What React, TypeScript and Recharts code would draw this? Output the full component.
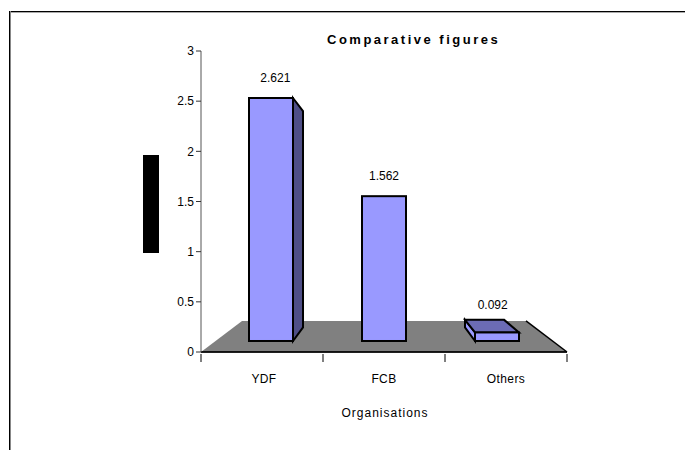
import { BarChart, Bar, XAxis, YAxis, ReferenceArea, LabelList } from 'recharts';

const organisations = ['YDF', 'FCB', 'Others'];
const figures = [2.621, 1.562, 0.092];
const yTicks = [0, 0.5, 1, 1.5, 2, 2.5, 3];
const floorTop = 0.31;

const chartData = organisations.map((name, i) => ({ name, value: figures[i] }));

const FONT = '"Liberation Sans", Arial, sans-serif';
// vanishing point of the fake 3d view
const VP = { x: 384, y: 218 };
const DEPTH = 0.11;
const BAND = 122;

const toBack = (px: number, py: number) => [px + (VP.x - px) * DEPTH, py + (VP.y - py) * DEPTH];
const pts = (list: number[][]) => list.map((p) => p.join(',')).join(' ');

const Bar3D = (props: any) => {
  const { x, y, width, height } = props;
  const r = x + width;
  const b = y + height;
  const tl = toBack(x, y);
  const tr = toBack(r, y);
  const bl = toBack(x, b);
  const br = toBack(r, b);
  return (
    <g stroke="#000" strokeWidth={2} strokeLinejoin="miter">
      {r < VP.x && <polygon points={pts([[r, y], tr, br, [r, b]])} fill="#4f4f87" />}
      {x > VP.x && <polygon points={pts([[x, y], tl, bl, [x, b]])} fill="#9999ff" />}
      {y > VP.y && <polygon points={pts([[x, y], tl, tr, [r, y]])} fill="#6b6bb5" />}
      <rect x={x} y={y} width={width} height={height} fill="#9999ff" />
    </g>
  );
};

const Floor = (props: any) => {
  const { x, y, width, height } = props;
  const r = x + width;
  const b = y + height;
  return (
    <g>
      <polygon points={pts([[x, b], [x + 41, y], [r - 41, y], [r, b]])} fill="#808080" />
      <line x1={r - 41} y1={y} x2={r} y2={b} stroke="#000" strokeWidth={1.5} />
      <line x1={x} y1={b} x2={r} y2={b} stroke="#000" strokeWidth={1.5} />
    </g>
  );
};

const ValueLabel = (props: any) => {
  const { x, y, width, value } = props;
  const cx = x + width / 2;
  const backY = toBack(cx, y)[1];
  const topVisible = y > VP.y;
  return (
    <text
      x={cx + (VP.x - cx) * DEPTH * 0.35}
      y={topVisible ? backY - 11 : y - 16}
      textAnchor="middle"
      fontFamily={FONT}
      fontSize={12}
      fill="#000"
    >
      {value}
    </text>
  );
};

// tick marks sit on the band edges, labels in the middle
const OrgTick = (props: any) => {
  const { x, y, payload, index } = props;
  const axisY = y - 6;
  return (
    <g>
      <line x1={x - BAND / 2} y1={axisY} x2={x - BAND / 2} y2={axisY + 8} stroke="#000" />
      {index === organisations.length - 1 && (
        <line x1={x + BAND / 2} y1={axisY} x2={x + BAND / 2} y2={axisY + 8} stroke="#000" />
      )}
      <text x={index === 0 ? x + 2 : x} y={axisY + 29} textAnchor="middle" fontFamily={FONT} fontSize={12} letterSpacing={0.4} fill="#000">
        {payload.value}
      </text>
    </g>
  );
};

export default function App() {
  return (
    <div style={{ position: 'absolute', left: 0, top: 0, width: 685, height: 450, background: '#fff', overflow: 'hidden' }}>
      <div style={{ position: 'absolute', left: 9, top: 11, width: 676, height: 1, background: '#000', boxShadow: '0 1px 0 #aaa' }} />
      <div style={{ position: 'absolute', left: 9, top: 11, width: 1, height: 439, background: '#000', boxShadow: '1px 0 0 #888' }} />
      <div style={{ position: 'absolute', left: 143, top: 155, width: 16, height: 98, background: '#000' }} />
      <div
        style={{
          position: 'absolute',
          left: 327,
          top: 32,
          fontFamily: FONT,
          fontWeight: 700,
          fontSize: 13,
          letterSpacing: 2.5,
          whiteSpace: 'nowrap',
        }}
      >
        Comparative figures
      </div>
      <BarChart
        width={685}
        height={450}
        data={chartData}
        margin={{ top: 51, left: 141, right: 118, bottom: 38 }}
        style={{ position: 'absolute', left: 0, top: 0 }}
      >
        <XAxis
          dataKey="name"
          height={60}
          tickLine={false}
          tick={<OrgTick />}
          stroke="#000"
          label={{ value: 'Organisations', position: 'insideBottom', dx: 1, offset: -5, fontFamily: FONT, fontSize: 12, fill: '#000', letterSpacing: 1 }}
        />
        <XAxis xAxisId="bars" dataKey="name" hide padding={{ left: 13, right: 14 }} />
        <YAxis
          width={60}
          domain={[0, 3]}
          ticks={yTicks}
          tickSize={5}
          tickLine={{ stroke: '#333' }}
          tick={{ fontFamily: FONT, fontSize: 12, fill: '#000' }}
          stroke="#555"
          interval={0}
        />
        <YAxis yAxisId="bars" hide domain={[-0.1187, 3.128]} />
        <ReferenceArea y1={0} y2={floorTop} shape={<Floor />} fillOpacity={1} />
        {/* keeps the visible axes bound to a series, draws nothing */}
        <Bar dataKey="value" fill="none" isAnimationActive={false} />
        <Bar dataKey="value" xAxisId="bars" yAxisId="bars" barSize={44} shape={<Bar3D />} isAnimationActive={false}>
          <LabelList dataKey="value" content={<ValueLabel />} />
        </Bar>
      </BarChart>
    </div>
  );
}
